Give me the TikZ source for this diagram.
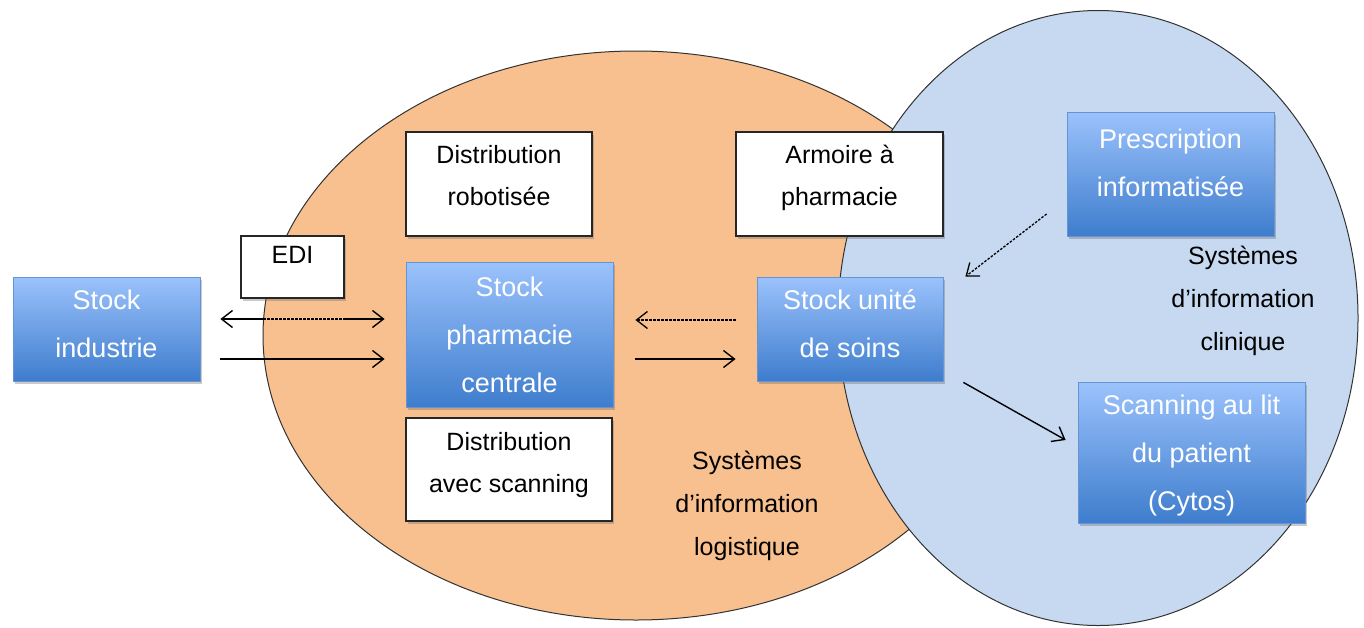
\documentclass[tikz,border=0pt]{standalone}
\usepackage{fontspec}
\setmainfont{Liberation Sans}
\usetikzlibrary{arrows.meta,shadows,calc}
\definecolor{orangefill}{RGB}{248,192,143}
\definecolor{bluefill}{RGB}{198,217,240}
\definecolor{boxtop}{RGB}{155,194,252}
\definecolor{boxbot}{RGB}{62,125,205}
\definecolor{boxedge}{RGB}{100,148,212}
\definecolor{outline}{RGB}{50,50,50}
\begin{document}
\begin{tikzpicture}[x=1pt,y=-1pt,
  zone/.style={draw=outline, line width=1pt},
  shad/.style={drop shadow={shadow xshift=1.5pt, shadow yshift=-3pt, opacity=0.35, fill=black!60}},
  bluebox/.style={shad, draw=boxedge, line width=0.8pt, top color=boxtop, bottom color=boxbot,
    text=white, align=center, font=\fontsize{27}{48}\selectfont, inner sep=0pt},
  whitebox/.style={shad, draw=black!85, line width=1.2pt, fill=white,
    align=center, font=\fontsize{25}{42}\selectfont, inner sep=0pt},
  syslabel/.style={align=center, font=\fontsize{25}{43}\selectfont, inner sep=0pt},
  arr/.style={line width=1.4pt, -{Straight Barb[length=11pt,width=17pt]}},
  plain/.style={line width=1.4pt},
  dashedarr/.style={line width=1.3pt, dash pattern=on 2.5pt off 1.5pt, -{Straight Barb[length=11pt,width=17pt]}}
]
\useasboundingbox (0,0) rectangle (1364,627);
\clip (0,0) rectangle (1364,627);

% zones
\path[zone, fill=orangefill] (636,335.5) ellipse [x radius=373, y radius=284.5];
\path[zone, fill=bluefill] (1098,318) ellipse [x radius=260, y radius=307.5];

% blue boxes
\node[bluebox, minimum width=187pt, minimum height=104pt, text depth=10pt] (si) at (106.5,329) {Stock\\industrie};
\node[bluebox, minimum width=207pt, minimum height=145pt] (spc) at (509.5,334.5) {Stock\\pharmacie\\centrale};
\node[bluebox, minimum width=186pt, minimum height=104pt, text depth=10pt] (su) at (850,329) {Stock unité\\de soins};
\node[bluebox, minimum width=207pt, minimum height=124pt, text depth=22pt] (pi) at (1170.5,174) {Prescription\\informatisée};
\node[bluebox, minimum width=227pt, minimum height=141pt, text depth=0pt] (sc) at (1191.5,452.5) {Scanning au lit\\du patient\\(Cytos)};

% white boxes
\node[whitebox, minimum width=103pt, minimum height=62pt, text depth=24pt] (edi) at (292.5,267) {EDI};
\node[whitebox, minimum width=186pt, minimum height=104pt, text depth=17pt] (dr) at (499,184) {Distribution\\robotisée};
\node[whitebox, minimum width=206pt, minimum height=103pt, text depth=15pt] (ds) at (509,469.5) {Distribution\\avec scanning};
\node[whitebox, minimum width=207pt, minimum height=104pt, text depth=18pt] (ap) at (839.5,184) {Armoire à\\pharmacie};

% zone labels
\node[syslabel] (sil) at (747,506) {Systèmes\\d’information\\logistique};
\node[syslabel] (sic) at (1243,301) {Systèmes\\d’information\\clinique};

% connectors industrie <-> pharmacie centrale
\coordinate (e1) at ([xshift=63pt,yshift=10pt]si.east);
\coordinate (e2) at ([xshift=-63pt,yshift=15.5pt]spc.west);
\draw[arr] (e1) -- ([xshift=20pt,yshift=10pt]si.east);
\draw[plain, line width=1.3pt, dash pattern=on 2.5pt off 1.5pt] (e1) -- (e2);
\draw[arr] (e2) -- ([xshift=-21pt,yshift=15.5pt]spc.west);
\draw[arr] ([xshift=20pt,yshift=-30pt]si.east) -- ([xshift=-21pt,yshift=-24.5pt]spc.west);

% pharmacie centrale <-> unite de soins
\draw[dashedarr] ([xshift=-21pt,yshift=9pt]su.west) -- ([xshift=22pt,yshift=14.5pt]spc.east);
\draw[arr] ([xshift=22pt,yshift=-24.5pt]spc.east) -- ([xshift=-21pt,yshift=-30pt]su.west);

% clinical arrows
\draw[dashedarr] ([xshift=-20pt,yshift=-40pt]pi.west) -- ([xshift=22pt]su.north east);
\draw[arr] ([xshift=20pt,yshift=-1pt]su.south east) -- ([xshift=-12pt,yshift=12.5pt]sc.west);
\end{tikzpicture}
\end{document}
